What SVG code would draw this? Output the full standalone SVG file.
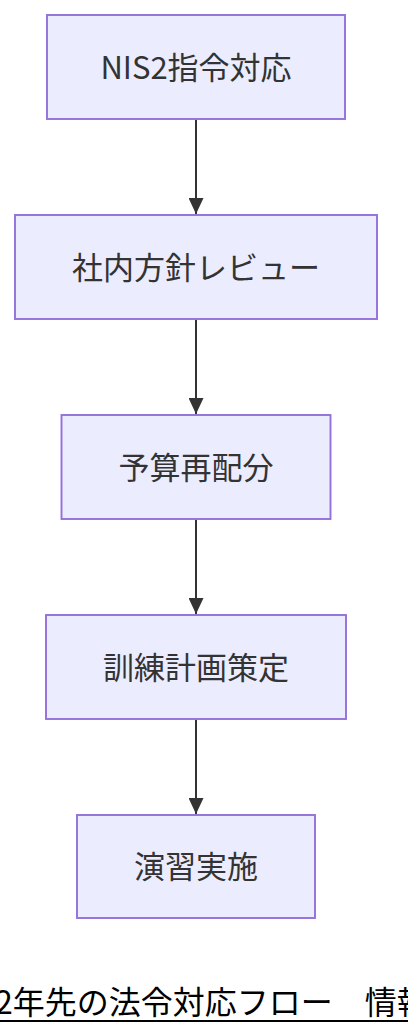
<svg xmlns="http://www.w3.org/2000/svg" width="408" height="1036" viewBox="0 0 408 1036">
<defs>
<style>
.node rect{fill:#ECECFF;stroke:#9370DB;stroke-width:1.9;}
.node text{font-family:"Noto Sans CJK JP","Noto Sans",sans-serif;font-size:31px;fill:#333333;text-anchor:middle;dominant-baseline:central;}
.edge{stroke:#333333;stroke-width:2;fill:none;}
.title{font-family:"Noto Sans CJK JP","Noto Sans",sans-serif;font-size:32px;fill:#000000;}
</style>
<marker id="arrow" viewBox="0 0 16 15" refX="16" refY="7.5" markerWidth="16" markerHeight="15" markerUnits="userSpaceOnUse" orient="auto">
<path d="M0,0 L16,7.5 L0,15 Z" fill="#333333"/>
</marker>
</defs>
<rect width="408" height="1036" fill="#ffffff"/>
<g id="connectors">
<line class="edge" x1="196" y1="120" x2="196" y2="214" marker-end="url(#arrow)"/>
<line class="edge" x1="196" y1="320" x2="196" y2="414" marker-end="url(#arrow)"/>
<line class="edge" x1="196" y1="520" x2="196" y2="614" marker-end="url(#arrow)"/>
<line class="edge" x1="196" y1="720" x2="196" y2="814" marker-end="url(#arrow)"/>
</g>
<g id="node-nis2" class="node">
<rect x="47" y="15" width="298" height="104"/>
<text x="196" y="65">NIS2指令対応</text>
</g>
<g id="node-policy" class="node">
<rect x="15" y="215" width="362" height="104"/>
<text x="196" y="265">社内方針レビュー</text>
</g>
<g id="node-budget" class="node">
<rect x="61.5" y="415" width="269" height="104"/>
<text x="196" y="465">予算再配分</text>
</g>
<g id="node-training" class="node">
<rect x="46" y="615" width="300" height="104"/>
<text x="196" y="665">訓練計画策定</text>
</g>
<g id="node-exercise" class="node">
<rect x="77" y="815" width="238" height="103"/>
<text x="196" y="864.5">演習実施</text>
</g>
<g id="title">
<text class="title" x="-5" y="1014">2年先の法令対応フロー　情報</text>
<line x1="0" y1="1021" x2="408" y2="1021" stroke="#000000" stroke-width="2"/>
</g>
</svg>
